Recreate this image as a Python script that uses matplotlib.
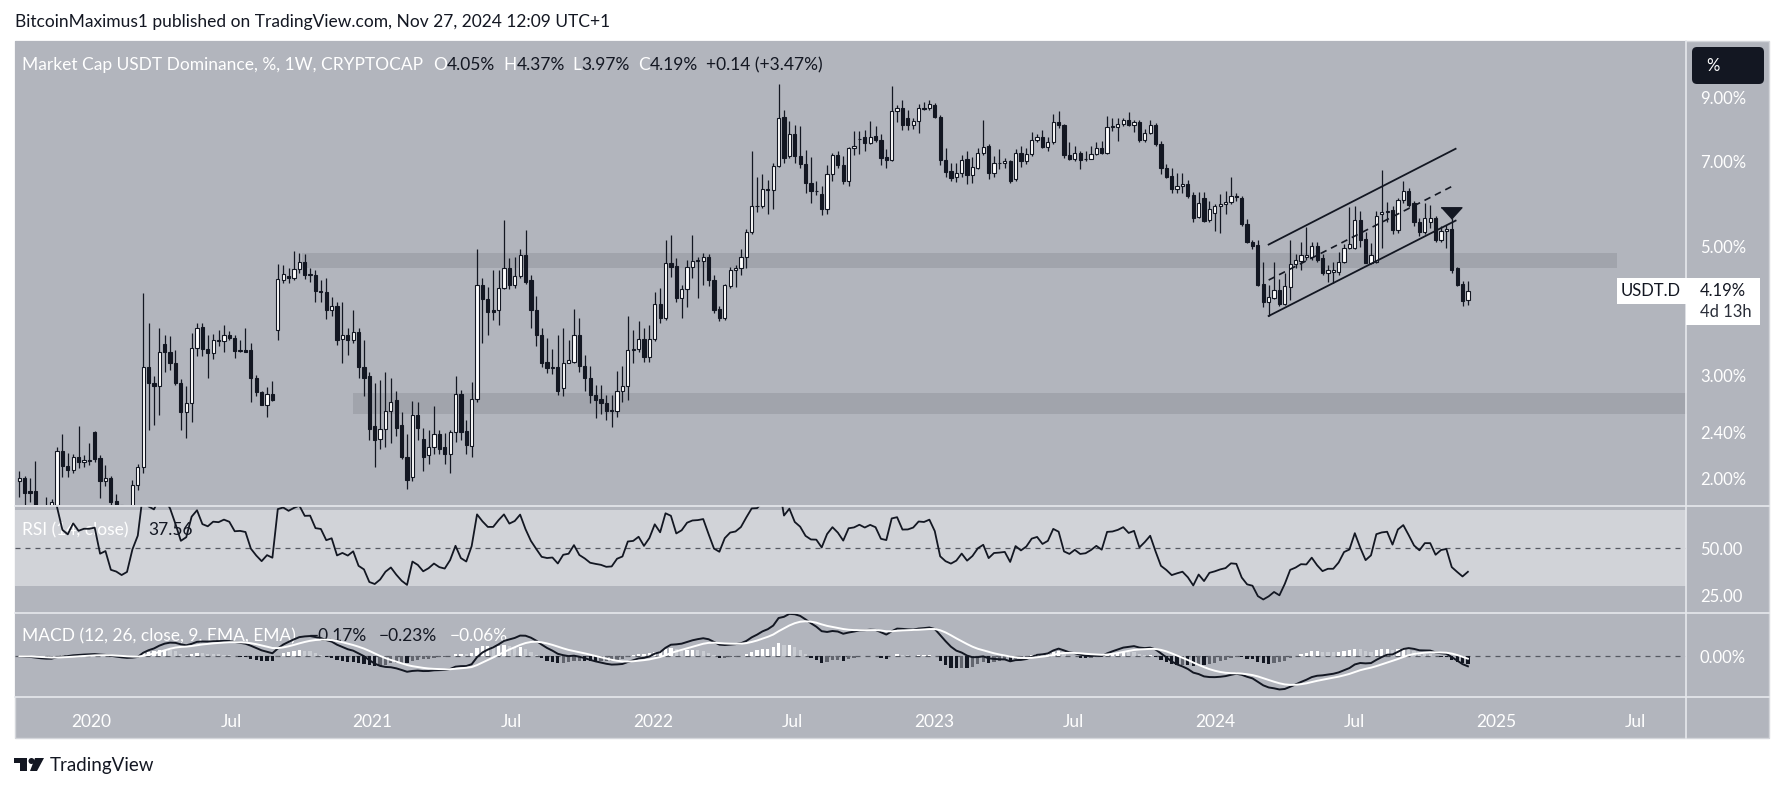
import matplotlib
matplotlib.use("Agg")
import matplotlib.pyplot as plt
import matplotlib.dates as mdates
from matplotlib.patches import Rectangle, FancyBboxPatch, Polygon, Circle
from matplotlib.transforms import IdentityTransform
from matplotlib.ticker import FixedLocator, FuncFormatter, NullLocator
import numpy as np
import pandas as pd

plt.rcParams['font.family'] = ['Lato', 'DejaVu Sans']

# weekly candles of CRYPTOCAP:USDT.D (%), first bar = week of 2019-09-30
first_week = "2019-09-30"
opens = [1.98, 2.00, 1.90, 1.90, 1.74, 1.72, 1.75, 1.80, 2.23, 2.10,
         2.07, 2.18, 2.13, 2.14, 2.40, 2.17, 1.98, 2.00, 1.83, 1.80,
         1.76, 1.78, 1.95, 2.09, 3.11, 2.92, 2.88, 3.40, 3.29, 3.16,
         2.92, 2.60, 2.69, 3.35, 3.64, 3.33, 3.28, 3.46, 3.44, 3.53,
         3.49, 3.31, 3.32, 3.32, 2.97, 2.81, 2.67, 2.79, 3.59, 4.38,
         4.45, 4.41, 4.57, 4.71, 4.47, 4.47, 4.19, 4.17, 3.89, 3.95,
         3.47, 3.53, 3.45, 3.56, 3.10, 3.00, 2.46, 2.34, 2.43, 2.61,
         2.73, 2.47, 2.18, 2.01, 2.57, 2.34, 2.19, 2.26, 2.38, 2.26,
         2.20, 2.40, 2.79, 2.41, 2.27, 2.74, 4.30, 4.06, 3.89, 3.89,
         4.24, 4.60, 4.30, 4.45, 4.84, 4.38, 3.89, 3.53, 3.17, 3.09,
         3.11, 2.86, 3.16, 3.17, 3.52, 3.12, 2.97, 2.78, 2.74, 2.69,
         2.61, 2.61, 2.82, 2.88, 3.32, 3.34, 3.47, 3.23, 3.47, 3.98,
         3.77, 4.69, 4.63, 4.08, 4.23, 4.61, 4.73, 4.73, 4.80, 4.38,
         3.90, 3.77, 4.28, 4.55, 4.60, 4.80, 5.29, 5.86, 5.88, 6.27,
         6.26, 6.87, 8.33, 7.15, 7.80, 7.16, 6.92, 6.43, 6.23, 6.15,
         5.80, 6.66, 7.18, 6.90, 6.47, 7.38, 7.64, 7.70, 7.53, 7.74,
         7.62, 7.12, 7.05, 8.55, 8.66, 8.30, 8.08, 8.22, 8.64, 8.66,
         8.76, 8.34, 7.04, 6.75, 6.57, 6.70, 7.06, 6.63, 6.82, 7.23,
         7.45, 6.70, 6.96, 6.97, 7.00, 6.52, 7.23, 7.01, 7.20, 7.61,
         7.70, 7.40, 7.55, 8.19, 8.08, 7.19, 7.06, 7.25, 7.06, 7.08,
         7.21, 7.38, 7.23, 8.03, 8.03, 8.13, 8.26, 8.08, 8.17, 7.62,
         7.83, 8.09, 7.51, 6.82, 6.61, 6.29, 6.35, 6.40, 6.13, 5.62,
         6.05, 5.56, 5.70, 5.86, 5.92, 5.96, 6.10, 6.06, 5.47, 5.10,
         5.03, 4.32, 4.02, 4.08, 4.21, 3.99, 4.26, 4.67, 4.73, 4.80,
         4.80, 5.02, 4.78, 4.50, 4.52, 4.52, 4.71, 4.98, 4.98, 5.56,
         5.16, 4.69, 4.71, 5.68, 5.74, 5.78, 5.34, 6.01, 6.24, 5.95,
         5.52, 5.30, 5.51, 5.60, 5.14, 5.31, 5.36, 4.59, 4.32, 4.05]
highs = [2.06, 2.02, 2.00, 2.14, 1.78, 1.86, 1.84, 2.26, 2.38, 2.21,
         2.20, 2.46, 2.19, 2.30, 2.41, 2.19, 2.11, 2.02, 1.88, 1.80,
         1.80, 1.99, 2.12, 4.16, 3.70, 3.00, 3.62, 3.53, 3.51, 3.32,
         2.96, 2.88, 3.55, 3.70, 3.70, 3.53, 3.54, 3.60, 3.67, 3.58,
         3.53, 3.46, 3.62, 3.41, 3.01, 2.82, 2.87, 2.94, 4.67, 4.65,
         4.60, 4.92, 4.88, 4.85, 4.60, 4.56, 4.38, 4.41, 4.10, 4.02,
         4.02, 3.63, 3.89, 3.62, 3.46, 3.05, 2.91, 2.95, 3.04, 2.97,
         2.82, 2.60, 2.38, 2.72, 2.71, 2.44, 2.42, 2.66, 2.42, 2.39,
         2.42, 3.00, 2.84, 2.52, 2.93, 4.96, 4.41, 4.26, 4.56, 4.56,
         5.55, 4.77, 4.79, 4.96, 5.34, 4.47, 4.11, 3.63, 3.48, 3.34,
         3.52, 3.62, 3.46, 3.90, 3.77, 3.26, 3.12, 2.89, 2.89, 2.78,
         2.78, 3.06, 3.12, 3.80, 3.60, 3.73, 3.62, 3.67, 4.18, 4.24,
         5.13, 5.23, 4.77, 4.29, 4.74, 5.23, 4.80, 4.87, 4.85, 4.47,
         3.95, 4.32, 4.61, 4.65, 4.96, 5.37, 7.31, 6.57, 6.67, 6.51,
         6.95, 9.52, 8.58, 8.22, 8.08, 8.04, 7.33, 7.12, 6.47, 6.35,
         6.90, 7.25, 7.31, 7.15, 7.42, 7.90, 7.90, 7.93, 8.22, 8.04,
         7.80, 7.35, 9.44, 8.76, 8.93, 8.58, 8.30, 8.79, 8.87, 8.91,
         8.83, 8.40, 7.37, 6.95, 6.95, 7.17, 7.31, 7.13, 7.37, 8.25,
         7.49, 7.15, 7.35, 7.09, 7.05, 7.35, 7.43, 7.37, 7.88, 7.80,
         7.93, 7.71, 8.46, 8.56, 8.12, 7.55, 7.45, 7.30, 7.31, 7.44,
         7.55, 7.58, 8.38, 8.30, 8.30, 8.32, 8.52, 8.25, 8.25, 7.95,
         8.25, 8.15, 7.60, 6.92, 6.82, 6.69, 6.70, 6.51, 6.20, 6.20,
         6.20, 5.99, 5.92, 6.15, 6.23, 6.57, 6.18, 6.10, 5.57, 5.14,
         5.13, 4.71, 4.30, 4.70, 4.40, 4.50, 5.14, 4.85, 5.10, 5.41,
         5.10, 5.10, 4.85, 4.65, 4.70, 4.90, 5.05, 5.84, 5.86, 5.76,
         5.30, 5.08, 5.75, 6.77, 5.96, 5.88, 6.05, 6.49, 6.31, 5.99,
         5.60, 5.95, 5.89, 5.65, 5.42, 5.45, 5.60, 4.62, 4.37, 4.37]
lows = [1.86, 1.78, 1.82, 1.70, 1.68, 1.70, 1.73, 1.78, 2.01, 2.01,
        2.04, 2.08, 2.09, 2.11, 2.13, 1.85, 1.94, 1.78, 1.76, 1.72,
        1.72, 1.74, 1.91, 2.04, 2.42, 2.47, 2.57, 3.05, 3.07, 2.89,
        2.42, 2.35, 2.50, 3.25, 3.24, 2.97, 3.21, 3.37, 3.29, 3.46,
        3.22, 3.30, 3.29, 2.71, 2.77, 2.67, 2.55, 2.72, 3.46, 4.33,
        4.33, 4.38, 4.50, 4.39, 4.35, 4.02, 4.02, 3.75, 3.80, 3.39,
        3.15, 3.26, 3.42, 2.97, 2.77, 2.33, 2.09, 2.25, 2.26, 2.30,
        2.36, 2.16, 1.92, 1.98, 2.33, 2.06, 2.12, 2.20, 2.20, 2.12,
        2.04, 2.31, 2.33, 2.20, 2.18, 2.71, 3.42, 3.52, 3.74, 3.67,
        4.22, 4.22, 4.24, 4.42, 4.32, 3.63, 3.37, 3.10, 3.03, 3.02,
        2.78, 2.77, 3.15, 3.15, 3.04, 2.82, 2.69, 2.54, 2.58, 2.52,
        2.45, 2.55, 2.71, 2.73, 3.15, 3.30, 3.17, 3.17, 3.44, 3.70,
        3.74, 4.44, 4.02, 3.77, 3.94, 4.41, 4.08, 4.30, 4.27, 3.85,
        3.73, 3.74, 4.25, 4.26, 4.47, 4.59, 5.26, 5.73, 5.82, 5.69,
        5.80, 6.85, 6.95, 7.09, 6.97, 6.83, 6.18, 5.95, 6.14, 5.67,
        5.69, 6.47, 6.83, 6.41, 6.35, 7.18, 7.20, 7.31, 7.50, 7.55,
        6.90, 6.83, 7.01, 8.19, 7.93, 7.93, 7.95, 7.83, 8.58, 8.58,
        8.30, 6.90, 6.57, 6.47, 6.45, 6.57, 6.41, 6.44, 6.79, 7.18,
        6.54, 6.59, 6.79, 6.81, 6.43, 6.48, 6.86, 6.92, 7.15, 7.56,
        7.37, 7.31, 7.50, 7.98, 7.09, 7.03, 7.01, 6.79, 7.02, 7.06,
        7.19, 7.20, 7.20, 7.91, 7.60, 8.05, 8.05, 7.88, 7.55, 7.56,
        7.80, 7.45, 6.65, 6.55, 6.19, 6.18, 6.18, 6.06, 5.52, 5.60,
        5.52, 5.52, 5.32, 5.27, 5.69, 5.92, 5.99, 5.42, 5.07, 4.96,
        4.27, 3.94, 3.80, 4.06, 3.96, 3.97, 4.05, 4.60, 4.56, 4.74,
        4.74, 4.71, 4.47, 4.35, 4.33, 4.47, 4.68, 4.96, 4.96, 5.00,
        4.68, 4.66, 4.68, 4.98, 5.52, 5.25, 5.28, 5.95, 5.85, 5.42,
        5.22, 5.25, 5.38, 5.10, 5.10, 4.98, 4.50, 4.28, 3.95, 3.97]
closes = [2.00, 1.89, 1.89, 1.74, 1.72, 1.75, 1.82, 2.23, 2.10, 2.07,
          2.18, 2.13, 2.15, 2.15, 2.16, 1.98, 2.00, 1.82, 1.80, 1.76,
          1.78, 1.95, 2.09, 3.11, 2.92, 2.88, 3.30, 3.29, 3.16, 2.92,
          2.60, 2.69, 3.35, 3.63, 3.33, 3.28, 3.45, 3.44, 3.53, 3.49,
          3.31, 3.32, 3.30, 2.97, 2.81, 2.67, 2.79, 2.73, 4.39, 4.49,
          4.41, 4.57, 4.70, 4.47, 4.48, 4.19, 4.17, 3.89, 3.95, 3.46,
          3.53, 3.45, 3.56, 3.10, 2.97, 2.43, 2.33, 2.43, 2.61, 2.71,
          2.44, 2.18, 1.99, 2.57, 2.44, 2.18, 2.26, 2.38, 2.25, 2.20,
          2.40, 2.79, 2.40, 2.28, 2.74, 4.30, 4.06, 3.86, 3.86, 4.24,
          4.60, 4.30, 4.45, 4.84, 4.35, 3.89, 3.53, 3.15, 3.09, 3.11,
          2.83, 3.15, 3.19, 3.52, 3.12, 2.97, 2.78, 2.73, 2.69, 2.61,
          2.62, 2.82, 2.88, 3.32, 3.34, 3.47, 3.23, 3.47, 3.98, 3.77,
          4.69, 4.62, 4.08, 4.23, 4.61, 4.73, 4.75, 4.80, 4.38, 3.89,
          3.77, 4.30, 4.55, 4.60, 4.80, 5.29, 5.86, 5.88, 6.27, 6.26,
          6.87, 8.30, 7.11, 7.79, 7.16, 6.92, 6.43, 6.23, 6.22, 5.80,
          6.66, 7.18, 6.90, 6.47, 7.38, 7.45, 7.66, 7.53, 7.72, 7.62,
          7.10, 7.04, 8.55, 8.66, 8.08, 8.09, 8.22, 8.65, 8.63, 8.79,
          8.34, 7.04, 6.72, 6.56, 6.70, 7.04, 6.63, 6.85, 7.23, 7.41,
          6.70, 6.95, 6.97, 7.00, 6.49, 7.23, 7.01, 7.20, 7.61, 7.70,
          7.40, 7.55, 8.19, 8.08, 7.19, 7.06, 7.25, 7.05, 7.08, 7.21,
          7.38, 7.23, 8.03, 8.05, 8.13, 8.26, 8.08, 8.17, 7.62, 7.83,
          8.09, 7.51, 6.82, 6.59, 6.29, 6.35, 6.40, 6.10, 5.60, 5.94,
          5.54, 5.81, 5.86, 5.92, 5.96, 6.10, 6.08, 5.47, 5.09, 5.01,
          4.30, 4.02, 4.10, 4.21, 3.98, 4.27, 4.67, 4.74, 4.84, 4.83,
          5.02, 4.74, 4.50, 4.56, 4.56, 4.71, 4.98, 5.05, 5.56, 5.14,
          4.69, 4.84, 5.65, 5.73, 5.76, 5.34, 6.01, 6.24, 5.90, 5.50,
          5.30, 5.60, 5.60, 5.14, 5.32, 5.36, 4.56, 4.30, 4.04, 4.19]

# drawings on the chart
zone_top = ["2020-10-01", "2025-06-07", 4.59, 4.88]
zone_bottom = ["2020-12-07", "2025-12-31", 2.58, 2.80]
channel_dates = ["2024-03-11", "2024-11-09"]
channel_upper = [5.04, 7.36]
channel_mid = [4.38, 6.39]
channel_lower = [3.80, 5.54]
arrow_date = "2024-11-03"
arrow_price = 5.72

price_ticks = [2.0, 2.4, 3.0, 5.0, 7.0, 9.0]
time_ticks = ["2020-01-01", "2020-07-01", "2021-01-01", "2021-07-01", "2022-01-01", "2022-07-01",
              "2023-01-01", "2023-07-01", "2024-01-01", "2024-07-01", "2025-01-01", "2025-07-01"]
time_labels = ["2020", "Jul", "2021", "Jul", "2022", "Jul", "2023", "Jul", "2024", "Jul", "2025", "Jul"]

BG = '#b2b5bd'
BAND = '#d1d3d8'
ZONE = '#a1a4ac'
DARK = '#131722'
WHITE = '#ffffff'
SEP = '#e6e8ec'

W, H = 1785, 791
fig = plt.figure(figsize=(W / 100, H / 100), dpi=100)
fig.patch.set_facecolor('white')

def rect(x0, y0, x1, y1):
    # pixel box (top-left origin) -> figure fraction
    return [x0 / W, 1 - y1 / H, (x1 - x0) / W, (y1 - y0) / H]

def disp(x, y):
    return x, H - y

L, R = 15, 1686
# chart background incl. right price scale and time scale
fig.add_artist(Rectangle(disp(L, 738), 1769 - L, 738 - 41, transform=IdentityTransform(),
                         facecolor=BG, edgecolor='#d4d6db', lw=1, zorder=-5))

ax = fig.add_axes(rect(L, 41, R, 505))
ax_rsi = fig.add_axes(rect(L, 506, R, 612), sharex=ax)
ax_macd = fig.add_axes(rect(L, 613, R, 697), sharex=ax)
for a in (ax, ax_rsi, ax_macd):
    a.set_facecolor(BG)
    for s in a.spines.values():
        s.set_visible(False)
    a.tick_params(axis='both', length=0, colors=WHITE, labelsize=12)
    a.yaxis.tick_right()
    a.tick_params(axis='y', pad=10)

x = mdates.date2num(pd.date_range(first_week, periods=len(closes), freq='W-MON'))
o = np.array(opens); h = np.array(highs); lo = np.array(lows); c = np.array(closes)
x0 = mdates.date2num(pd.Timestamp(first_week))
ax.set_xlim(x0 - 0.8 * 7, x0 + 309.5 * 7)

# ---- price panel
ax.set_yscale('log')
ax.set_ylim(1.80, 11.27)
ax.yaxis.set_major_locator(FixedLocator(price_ticks))
ax.yaxis.set_minor_locator(NullLocator())
ax.yaxis.set_major_formatter(FuncFormatter(lambda v, p: f'{v:.2f}%'))

zx = mdates.date2num(pd.to_datetime(zone_top[:2]))
ax.fill_between(zx, zone_top[2], zone_top[3], color=ZONE, lw=0, zorder=1)
zx = mdates.date2num(pd.to_datetime(zone_bottom[:2]))
ax.fill_between(zx, zone_bottom[2], zone_bottom[3], color=ZONE, lw=0, zorder=1)

up = c >= o
ax.vlines(x, lo, h, color=DARK, lw=0.9, zorder=3)
ax.bar(x, np.abs(c - o), bottom=np.minimum(o, c), width=4.2,
       color=np.where(up, WHITE, DARK), edgecolor=DARK, lw=0.8, zorder=4)

cx = mdates.date2num(pd.to_datetime(channel_dates))
ax.plot(cx, channel_upper, color=DARK, lw=1.3, zorder=5)
ax.plot(cx, channel_lower, color=DARK, lw=1.3, zorder=5)
ax.plot(cx, channel_mid, color=DARK, lw=1.2, ls=(0, (4, 3)), zorder=5)
ax.plot(mdates.date2num(pd.Timestamp(arrow_date)), arrow_price, ls='none',
        marker=[(-1, 0.55), (1, 0.55), (0, -0.55)], ms=15, color=DARK, zorder=6)

# ---- RSI 14 (no history before the first visible bar, so skip the warm-up weeks)
s = pd.Series(closes)
d = s.diff()
gain = d.clip(lower=0).ewm(alpha=1 / 14).mean()
loss = (-d.clip(upper=0)).ewm(alpha=1 / 14).mean()
rsi = 100 - 100 / (1 + gain / loss)
rsi[:7] = np.nan
ax_rsi.axhspan(30, 70, color=BAND, lw=0, zorder=0.5)
ax_rsi.axhline(50, color='#555861', lw=0.9, ls=(0, (4, 4)), zorder=1)
ax_rsi.plot(x, rsi, color=DARK, lw=1.3, zorder=3)
ax_rsi.set_ylim(16.6, 72.2)
ax_rsi.set_yticks([25, 50])
ax_rsi.set_yticklabels(['25.00', '50.00'])

# ---- MACD 12 26 9
macd = s.ewm(span=12, adjust=False).mean() - s.ewm(span=26, adjust=False).mean()
signal = macd.ewm(span=9, adjust=False).mean()
hist = macd - signal
prev = hist.shift(1).fillna(0)
hcol = np.where(hist >= 0, np.where(hist > prev, WHITE, '#c9ccd2'),
                np.where(hist < prev, DARK, '#62656e'))
ax_macd.bar(x, hist, width=4.2, color=hcol, lw=0, zorder=1)
ax_macd.axhline(0, color='#555861', lw=0.9, ls=(0, (4, 4)), zorder=0.5)
ax_macd.plot(x, macd, color=DARK, lw=1.4, zorder=3)
ax_macd.plot(x, signal, color=WHITE, lw=1.4, zorder=3)
top = max(macd.max(), signal.max()) * 1.02
ax_macd.set_ylim(-top * 0.486 / 0.514, top)
ax_macd.set_yticks([0])
ax_macd.set_yticklabels(['0.00%'])

ax.tick_params(labelbottom=False)
ax_rsi.tick_params(labelbottom=False)
ax_macd.set_xticks(mdates.date2num(pd.to_datetime(time_ticks)))
ax_macd.set_xticklabels(time_labels)
ax_macd.tick_params(axis='x', pad=12, labelsize=12.5)

# separators
for yy in (505.5, 612.5, 697):
    fig.add_artist(plt.Line2D([L, 1769], [H - yy, H - yy], transform=IdentityTransform(), color=SEP, lw=1.2))
fig.add_artist(plt.Line2D([R, R], [H - 41, H - 738], transform=IdentityTransform(), color=SEP, lw=1.2))

fig.canvas.draw()
renderer = fig.canvas.get_renderer()

def run(owner, xp, yp, pieces, size=12.5, z=2):
    for txt, col, gap in pieces:
        t = owner.text(*disp(xp, yp), txt, transform=IdentityTransform(), color=col,
                       fontsize=size, va='center', ha='left', zorder=z)
        xp += t.get_window_extent(renderer).width + gap

run(ax, 22, 65, [("Market Cap USDT Dominance, %, 1W, CRYPTOCAP", WHITE, 10),
                 ("O", WHITE, 0), ("4.05%", DARK, 8), ("H", WHITE, 0), ("4.37%", DARK, 8),
                 ("L", WHITE, 0), ("3.97%", DARK, 8), ("C", WHITE, 0), ("4.19%", DARK, 8),
                 ("+0.14 (+3.47%)", DARK, 0)], z=7)
run(ax_rsi, 22, 530, [("RSI (14, close)", WHITE, 20), ("37.56", DARK, 0)])
run(ax_macd, 22, 636, [("MACD (12, 26, close, 9, EMA, EMA)", WHITE, 13), ("\u22120.17%", DARK, 12),
                       ("\u22120.23%", DARK, 12), ("\u22120.06%", WHITE, 0)])

fig.text(*disp(15, 22), "BitcoinMaximus1 published on TradingView.com, Nov 27, 2024 12:09 UTC+1",
         transform=IdentityTransform(), fontsize=12.5, color=DARK, va='center')

# last price label
yc = H - ax.transData.transform((x0, closes[-1]))[1]
fig.add_artist(Rectangle(disp(1617, yc + 13), 69, 26, transform=IdentityTransform(),
                         facecolor=WHITE, lw=0, zorder=6))
fig.add_artist(Rectangle(disp(R, yc + 34), 74, 47, transform=IdentityTransform(),
                         facecolor=WHITE, lw=0, zorder=6))
fig.text(*disp(1651, yc), "USDT.D", transform=IdentityTransform(), fontsize=12,
         color=DARK, ha='center', va='center', zorder=7)
fig.text(*disp(1700, yc), f"{closes[-1]:.2f}%", transform=IdentityTransform(), fontsize=12,
         color=DARK, ha='left', va='center', zorder=7)
fig.text(*disp(1700, yc + 21), "4d 13h", transform=IdentityTransform(), fontsize=12,
         color='#2a2e39', ha='left', va='center', zorder=7)

# % button
fig.add_artist(FancyBboxPatch(disp(1692, 84), 72, 37, boxstyle="round,pad=0,rounding_size=5",
                              transform=IdentityTransform(), facecolor=DARK, lw=0, zorder=6))
fig.text(*disp(1706, 66), "%", transform=IdentityTransform(), fontsize=12, color=WHITE,
         va='center', zorder=7)

# TradingView logo
fig.add_artist(Rectangle(disp(14, 763), 13, 5, transform=IdentityTransform(), facecolor=DARK, lw=0))
fig.add_artist(Rectangle(disp(20, 771), 7, 13, transform=IdentityTransform(), facecolor=DARK, lw=0))
fig.add_artist(Circle(disp(31.5, 761), 3, transform=IdentityTransform(), facecolor=DARK, lw=0))
fig.add_artist(Polygon([disp(35, 758), disp(44, 758), disp(37, 771), disp(30, 771)],
                       transform=IdentityTransform(), facecolor=DARK, lw=0))
fig.text(*disp(50, 765), "TradingView", transform=IdentityTransform(), fontsize=13.5,
         color=DARK, va='center')

fig.savefig("out.png", dpi=100, facecolor='white')
